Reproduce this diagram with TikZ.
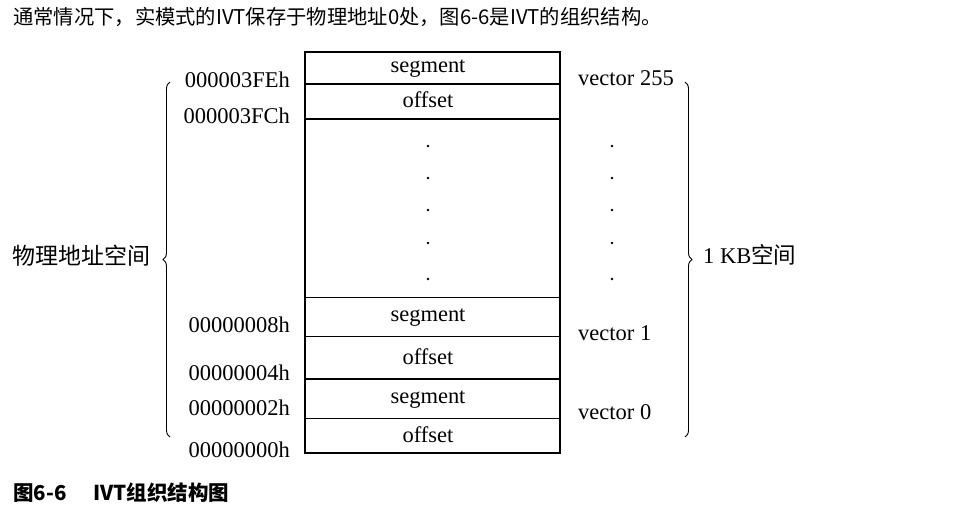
\documentclass[tikz,border=0pt]{standalone}
\usepackage{fontspec}
\setmainfont{Liberation Serif}
\newfontfamily\cjk{Noto Sans CJK SC}
\usetikzlibrary{decorations.pathreplacing}

\begin{document}
\begin{tikzpicture}[
  x=1pt, y=-1pt,
  lbl/.style={inner sep=0pt, font=\fontsize{22.5}{26}\selectfont},
  addr/.style={lbl, anchor=east},
  vec/.style={lbl, anchor=west},
  cell/.style={lbl},
  entrysep/.style={line width=1.6pt},
  wordsep/.style={line width=0.8pt},
  brc/.style={decorate, decoration={brace, amplitude=7pt}, line width=0.9pt},
]
\useasboundingbox (0,0) rectangle (959,523);

% heading and caption
\node[inner sep=0pt, anchor=west, font=\cjk\fontsize{20.3}{23}\selectfont] (intro) at (13,17)
  {通常情况下，实模式的IVT保存于物理地址0处，图6-6是IVT的组织结构。};
\node[inner sep=0pt, anchor=west, font=\cjk\bfseries\fontsize{20.5}{23}\selectfont] (caption) at (13,493)
  {图6-6\hspace{1.3em}IVT组织结构图};

% the table
\draw[line width=1.2pt] (305,52) rectangle (560,453);
\draw[entrysep] (305,84)  -- (560,84);
\draw[entrysep] (305,119) -- (560,119);
\draw[wordsep]  (305,297) -- (560,297);
\draw[wordsep]  (305,336) -- (560,336);
\draw[entrysep] (305,379) -- (560,379);
\draw[wordsep]  (305,418) -- (560,418);

\node[cell] (seg255) at (428,69)  {segment};
\node[cell] (off255) at (428,100) {offset};
\node[cell] (seg1)   at (428,318) {segment};
\node[cell] (off1)   at (428,357) {offset};
\node[cell] (seg0)   at (428,400) {segment};
\node[cell] (off0)   at (428,435) {offset};

\foreach \y in {146,178,210,243,279} {
  \fill (428,\y) circle (1.3pt);
  \fill (612,\y) circle (1.3pt);
}

% addresses
\node[addr] (a3FE) at (290,80)  {000003FEh};
\node[addr] (a3FC) at (290,116) {000003FCh};
\node[addr] (a008) at (290,325) {00000008h};
\node[addr] (a004) at (290,373) {00000004h};
\node[addr] (a002) at (290,408) {00000002h};
\node[addr] (a000) at (290,450) {00000000h};

% vectors
\node[vec] (v255) at (578,78)  {vector 255};
\node[vec] (v1)   at (578,333) {vector 1};
\node[vec] (v0)   at (578,412) {vector 0};

% braces
\coordinate (lb) at (170,437);
\coordinate (lt) at (170,82);
\coordinate (rt) at (685,82);
\coordinate (rb) at (685,437);
\draw[brc] (lb) -- (lt);
\draw[brc] (rt) -- (rb);
\node[lbl, anchor=east, font=\cjk\fontsize{23}{26}\selectfont] (phys) at (151,256) {物理地址空间};
\node[lbl, anchor=west] (kb) at (703,255) {1 KB{\cjk 空间}};
\end{tikzpicture}
\end{document}
